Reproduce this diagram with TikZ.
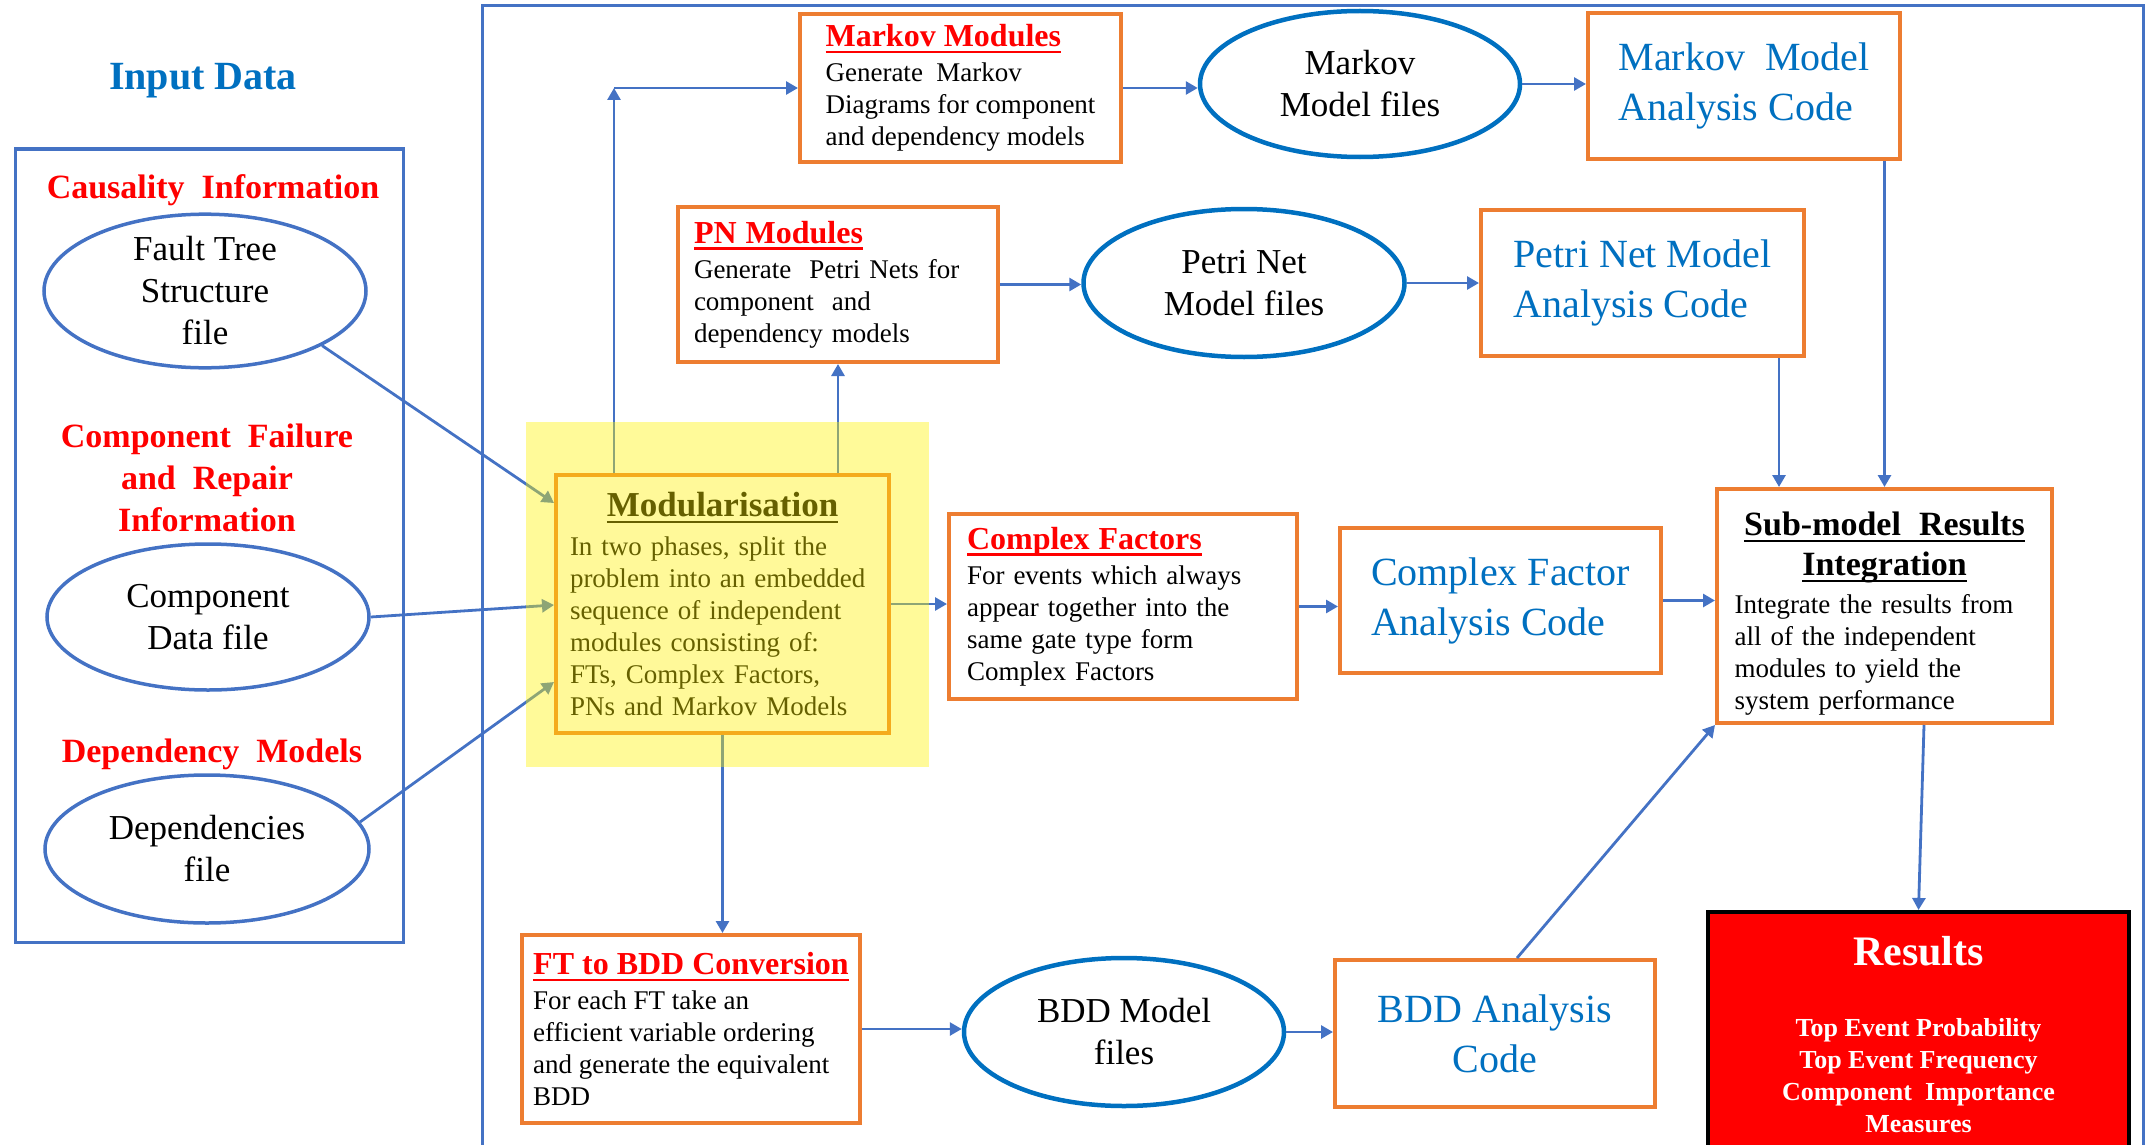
\documentclass[tikz,border=0pt]{standalone}
\usepackage{fontspec}
\setmainfont{Liberation Serif}
\usetikzlibrary{shapes.geometric,arrows.meta}
\definecolor{lblue}{RGB}{68,114,196}
\definecolor{dblue}{RGB}{0,112,192}
\definecolor{orng}{RGB}{237,125,49}
\definecolor{hred}{RGB}{255,0,0}
\newcommand\fsz[2]{\fontsize{#1}{#2}\selectfont}
% underline drawn as a rule a few points below the baseline
\newsavebox\ulbox
\newcommand\uln[1]{\leavevmode\sbox\ulbox{#1}\rlap{\vrule height -4pt depth 6.5pt width \wd\ulbox}\usebox\ulbox}
% red, bold, underlined heading of a process box
\newcommand\redhead[1]{{\color{hred}\fsz{32}{36}\bfseries\uln{#1}}}

\tikzset{
  frame/.style={draw=lblue, line width=3pt},
  conn/.style={draw=lblue, line width=2.8pt},
  arr/.style={conn, -{Triangle[length=12pt,width=13pt]}},
  sect/.style={text=hred, font=\fsz{34}{42}\bfseries, align=center},
  lell/.style={ellipse, draw=lblue, line width=3.5pt, inner sep=0pt, align=center, font=\fsz{35}{42}},
  rell/.style={ellipse, draw=dblue, line width=4.5pt, inner sep=0pt, align=center, font=\fsz{35}{42}},
  pbox/.style={rectangle, draw=orng, line width=4pt, fill=white, inner sep=0pt, align=left, font=\fsz{27}{32}},
  codebox/.style={pbox, text=dblue, font=\fsz{40}{50}},
}

\begin{document}
\begin{tikzpicture}[x=1pt, y=-1pt]
\useasboundingbox (0,0) rectangle (2149,1145);
\clip (0,0) rectangle (2149,1145);

% outer frames
\draw[frame] (482,6) rectangle (2143,1200);
\draw[frame] (15,149) rectangle (403,942);

% input side
\node[text=dblue, font=\fsz{40}{48}\bfseries] (intitle) at (203,81) {Input Data};
\node[sect] (causal) at (213,190) {Causality\ \ Information};
\node[lell, minimum width=322, minimum height=146] (ft) at (205,291) {Fault Tree\\Structure\\file};
\node[sect] (compfail) at (207,478) {Component\ \ Failure\\and\ \ Repair\\Information};
\node[lell, minimum width=322, minimum height=146] (cd) at (208,617) {Component\\Data file};
\node[sect] (depm) at (212,754) {Dependency\ \ Models};
\node[lell, minimum width=324, minimum height=148] (dep) at (207,849) {Dependencies\\file};

% modularisation
\node[pbox, minimum width=333, minimum height=258, text width=305] (mod) at (722.5,604)
  {\makebox[305pt]{\fsz{35}{40}\bfseries\uln{Modularisation}}\\[7pt]
   In two phases, split the\\
   problem into an embedded\\
   sequence of independent\\
   modules consisting of:\\
   FTs, Complex Factors,\\
   PNs and Markov Models};

% process boxes
\node[pbox, minimum width=321, minimum height=148] (mm) at (960.5,88)
  {\redhead{Markov Modules}\\[3pt]
   Generate\ \ Markov\\
   Diagrams for component\\
   and dependency models};
\node[pbox, minimum width=320, minimum height=155, text width=288] (pnm) at (838,284.5)
  {\redhead{PN Modules}\\[3pt]
   Generate\ \ Petri Nets for\\
   component\ \ and\\
   dependency models};
\node[pbox, minimum width=348, minimum height=185, text width=312] (cf) at (1123,606.5)
  {\redhead{Complex Factors}\\[3pt]
   For events which always\\
   appear together into the\\
   same gate type form\\
   Complex Factors};
\node[pbox, minimum width=338, minimum height=188] (ftb) at (691,1029)
  {\redhead{FT to BDD Conversion}\\[3pt]
   For each FT take an\\
   efficient variable ordering\\
   and generate the equivalent\\
   BDD};

% model files
\node[rell, minimum width=320, minimum height=146] (mkf) at (1360,84) {Markov\\Model files};
\node[rell, minimum width=321, minimum height=148] (pnf) at (1244,283) {Petri Net\\Model files};
\node[rell, minimum width=320, minimum height=148] (bddf) at (1124,1032) {BDD Model\\files};

% analysis codes
\node[codebox, minimum width=312, minimum height=146] (mkc) at (1744,86) {Markov\ \ Model\\Analysis Code};
\node[codebox, minimum width=323, minimum height=146] (pnc) at (1642.5,283) {Petri Net Model\\Analysis Code};
\node[codebox, minimum width=321, minimum height=145] (cfc) at (1500.5,600.5) {Complex Factor\\Analysis Code};
\node[codebox, minimum width=320, minimum height=147, align=center] (bddc) at (1495,1033.5) {BDD Analysis\\Code};

% integration and results
\node[pbox, minimum width=335, minimum height=234, text width=300] (sub) at (1884.5,606)
  {\makebox[300pt]{\rule{0pt}{39pt}\fsz{34}{42}\bfseries\uln{Sub-model\ \ Results}}\\[8pt]
   \makebox[300pt]{\fsz{34}{42}\bfseries\uln{Integration}}\\[6pt]
   Integrate the results from\\
   all of the independent\\
   modules to yield the\\
   system performance};
\node[rectangle, draw=black, line width=3.5pt, fill=hred, text=white, anchor=north,
      minimum width=421, minimum height=246, align=center, font=\fsz{26}{32}\bfseries] (res) at (1918.5,910)
  {{\fsz{42}{48}Results}\\[39pt]
   Top Event Probability\\
   Top Event Frequency\\
   Component\ \ Importance\\
   Measures};

% helper points for connectors
\coordinate (mkturn) at (614,88);
\coordinate (pnx) at (1779,0);
\coordinate (bx) at (1517,0);
\coordinate (sx) at (1924,0);
\coordinate (ya) at (0,503);
\coordinate (yb) at (0,605);
\coordinate (yc) at (0,682);

% connectors
\draw[arr] (ft.-25) -- (mod.west |- ya);
\draw[arr] (cd.east) -- (mod.west |- yb);
\draw[arr] (dep.10) -- (mod.west |- yc);
\draw[arr] (mod.north -| mkturn) -- (mkturn);
\draw[arr] (mkturn) -- (mm.west |- mkturn);
\draw[arr] (mod.north -| pnm.south) -- (pnm.south);
\draw[arr] (mod.east) -- (cf.west |- mod.east);
\draw[arr] (mod.south) -- (ftb.north -| mod.south);
\draw[arr] (mm.east) -- (mkf.west |- mm.east);
\draw[arr] (mkf.east) -- (mkc.west |- mkf.east);
\draw[arr] (pnm.east) -- (pnf.west |- pnm.east);
\draw[arr] (pnf.east) -- (pnc.west |- pnf.east);
\draw[arr] (cf.east) -- (cfc.west |- cf.east);
\draw[arr] (cfc.east) -- (sub.west |- cfc.east);
\draw[arr] (mkc.south -| sub.north) -- (sub.north);
\draw[arr] (pnc.south -| pnx) -- (sub.north -| pnx);
\draw[arr] (ftb.east) -- (bddf.west |- ftb.east);
\draw[arr] (bddf.east) -- (bddc.west |- bddf.east);
\draw[arr] (bddc.north -| bx) -- (sub.south west);
\draw[arr] (sub.south -| sx) -- (res.north);

% translucent highlight over the modularisation step
\fill[yellow, fill opacity=0.4] (526,422) rectangle (929,767);
\end{tikzpicture}
\end{document}
